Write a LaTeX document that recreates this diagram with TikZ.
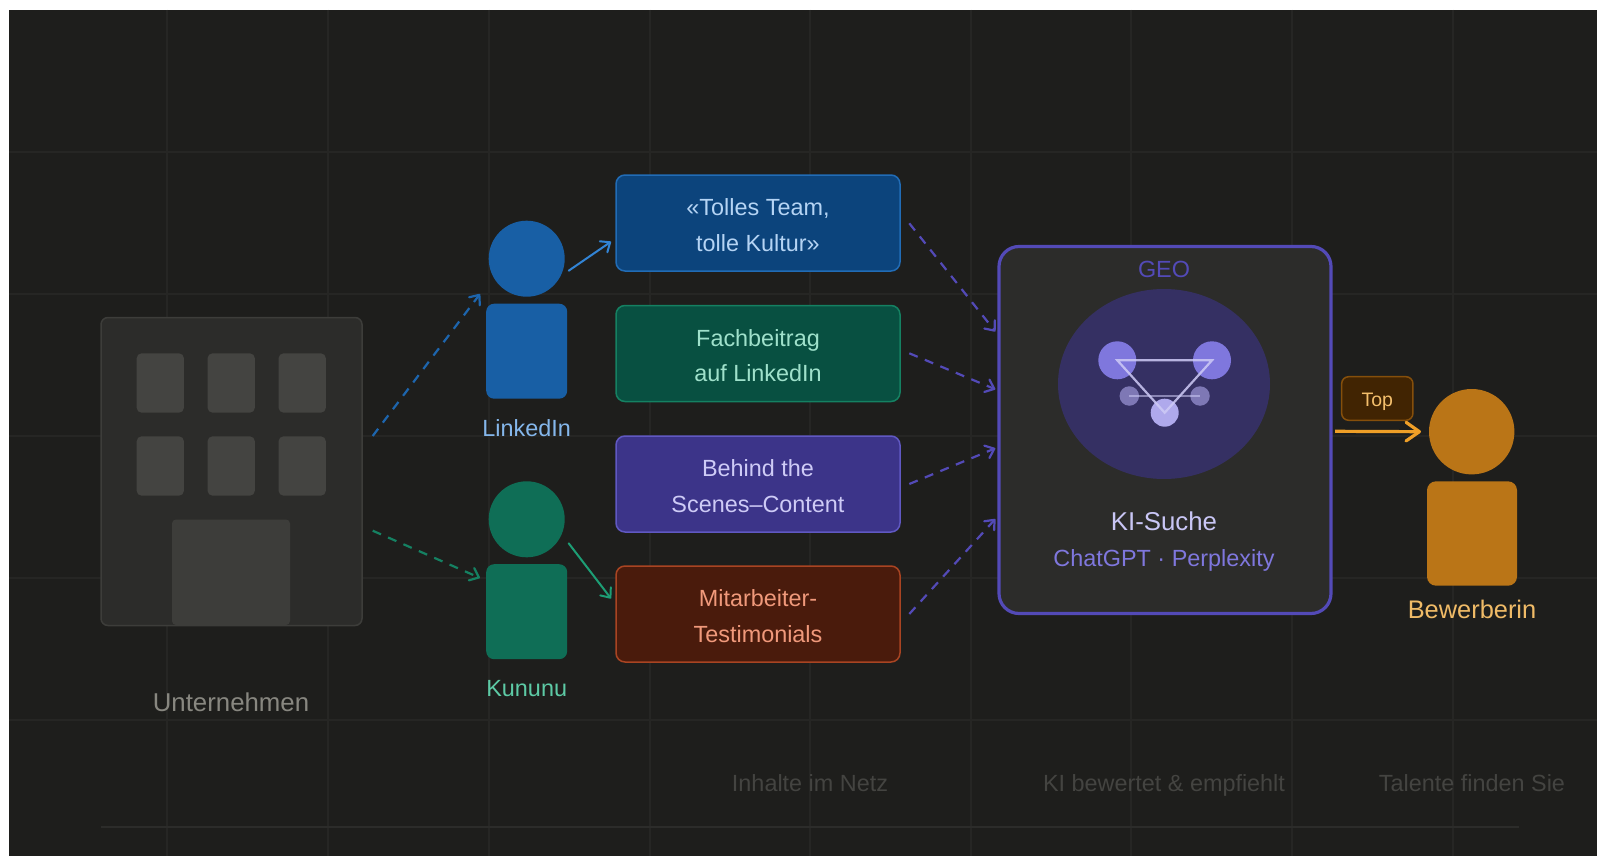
\documentclass[tikz,border=0pt]{standalone}
\usepackage{fontspec}
\setmainfont{Liberation Sans}
\usetikzlibrary{arrows.meta,calc,shapes.geometric}
\def\u{0.75pt}
\newcommand{\fs}[2]{\pgfmathsetmacro\fsa{#1*0.75}\pgfmathsetmacro\fsb{#2*0.75}\fontsize{\fsa}{\fsb}\selectfont}
\newcommand{\cardtxt}[2]{\rule{0pt}{19.7pt}#1\\#2\rule[-4pt]{0pt}{4pt}}
\definecolor{bgdark}{HTML}{1E1E1C}
\definecolor{gridc}{HTML}{262624}
\definecolor{panel}{HTML}{2C2C2A}
\definecolor{panelb}{HTML}{3D3D3A}
\definecolor{winc}{HTML}{444441}
\definecolor{grayt}{HTML}{888780}
\definecolor{footc}{HTML}{444441}
\definecolor{blueA}{HTML}{0C447C}
\definecolor{blueB}{HTML}{185FA5}
\definecolor{blueC}{HTML}{378ADD}
\definecolor{blueD}{HTML}{85B7EB}
\definecolor{blueE}{HTML}{B5D4F4}
\definecolor{tealA}{HTML}{085041}
\definecolor{tealB}{HTML}{0F6E56}
\definecolor{tealC}{HTML}{1D9E75}
\definecolor{tealD}{HTML}{5DCAA5}
\definecolor{tealE}{HTML}{9FE1CB}
\definecolor{purA}{HTML}{3C3489}
\definecolor{purB}{HTML}{534AB7}
\definecolor{purC}{HTML}{7F77DD}
\definecolor{purD}{HTML}{AFA9EC}
\definecolor{purE}{HTML}{CECBF6}
\definecolor{corA}{HTML}{4A1B0C}
\definecolor{corB}{HTML}{993C1D}
\definecolor{corC}{HTML}{D85A30}
\definecolor{corD}{HTML}{F0997B}
\definecolor{ambA}{HTML}{412402}
\definecolor{ambB}{HTML}{854F0B}
\definecolor{ambC}{HTML}{BA7517}
\definecolor{ambD}{HTML}{EF9F27}
\definecolor{ambE}{HTML}{FAC775}
\tikzset{
  x=0.75pt,y=-0.75pt,
  every node/.style={inner sep=0pt,outer sep=0pt},
  gridline/.style={draw=gridc,line width=1.4*\u},
  cardbox/.style={rectangle,rounded corners=9*\u,minimum width=284*\u,minimum height=96*\u,line width=1.5*\u,align=center,font=\fs{23.4}{35.6}},
  windowbox/.style={rectangle,rounded corners=5*\u,minimum width=47.3*\u,minimum height=59.4*\u,fill=winc},
  head/.style={circle,minimum size=#1*\u},
  bodybox/.style={rectangle,rounded corners=8*\u,minimum width=81*\u,minimum height=95*\u},
  tip/.style={-{Straight Barb[length=6pt,width=10pt,round]}},
  dashconn/.style={tip,line width=2.2*\u,dash pattern=on 6.8pt off 5.8pt},
  solidconn/.style={tip,line width=2*\u,line cap=round},
  lbl/.style={anchor=base,font=\fs{23.4}{28}},
}
\begin{document}
\begin{tikzpicture}
\useasboundingbox (0,0) rectangle (1597,856);
\fill[white] (0,0) rectangle (1597,856);
\fill[bgdark] (9,10) rectangle (1597,856);
\foreach \gx in {167,328,489,650,810,971,1131,1292,1453} \draw[gridline] (\gx,10) -- (\gx,856);
\foreach \gy in {152,294,436,578,720} \draw[gridline] (9,\gy) -- (1597,\gy);
% footer line
\coordinate (footL) at (101,827);
\coordinate (footR) at (1519,827);
\draw[draw=panel,line width=2*\u] (footL) -- (footR);

% building
\node[rectangle,rounded corners=7*\u,fill=panel,draw=panelb,line width=1.5*\u,minimum width=261*\u,minimum height=308*\u] (hq) at (231.5,471.5) {};
\node[windowbox] (w1) at (160.3,383) {};
\node[windowbox] (w2) at (231.2,383) {};
\node[windowbox] (w3) at (302.2,383) {};
\node[windowbox] (w4) at (160.3,466) {};
\node[windowbox] (w5) at (231.2,466) {};
\node[windowbox] (w6) at (302.2,466) {};
\path[fill=panelb,rounded corners=4*\u] (172,625) -- (172,519.5) -- (290,519.5) -- (290,625) -- cycle;
\node[anchor=base,font=\fs{25.8}{30},text=grayt] (hqlabel) at (231,711.5) {Unternehmen};

% LinkedIn person
\node[head=76,fill=blueB] (lihead) at (526.7,258.7) {};
\node[bodybox,fill=blueB] (libody) at (526.7,351.2) {};
\node[lbl,text=blueD] (lilabel) at (526.7,436) {LinkedIn};
% Kununu person
\node[head=76,fill=tealB] (kuhead) at (526.7,519.3) {};
\node[bodybox,fill=tealB] (kubody) at (526.7,611.7) {};
\node[lbl,text=tealD] (kulabel) at (526.7,696.7) {Kununu};

% cards
\node[cardbox,fill=blueA,draw=blueB!70!blueC,text=blueE] (c1) at (758,223) {\cardtxt{«Tolles Team,}{tolle Kultur»}};
\node[cardbox,fill=tealA,draw=tealB!60!tealC,text=tealE] (c2) at (758,353.5) {\cardtxt{Fachbeitrag}{auf LinkedIn}};
\node[cardbox,fill=purA,draw=purB!70!purC,text=purE] (c3) at (758,484) {\cardtxt{Behind the}{Scenes–Content}};
\node[cardbox,fill=corA,draw=corB!75!corC,text=corD] (c4) at (758,614) {\cardtxt{Mitarbeiter-}{Testimonials}};

% KI box
\node[rectangle,rounded corners=20*\u,fill=panel,draw=purB,line width=3.2*\u,minimum width=332*\u,minimum height=367*\u] (ki) at (1165,430) {};
\node[lbl,text=purB] (geo) at (1164,277.3) {GEO};
\node[ellipse,minimum width=212*\u,minimum height=190*\u,fill=purA,fill opacity=0.6] (halo) at (1164,384) {};
\node[circle,minimum size=38*\u,fill=purC] (n1) at (1117.3,360.3) {};
\node[circle,minimum size=38*\u,fill=purC] (n2) at (1212,360.3) {};
\node[circle,minimum size=28*\u,fill=purD] (n3) at (1164.7,412.7) {};
\node[circle,minimum size=19.5*\u,fill=purD,fill opacity=0.6] (n4) at (1129.3,396) {};
\node[circle,minimum size=19.5*\u,fill=purD,fill opacity=0.6] (n5) at (1200,396) {};
\draw[draw=purE,draw opacity=0.85,line width=2.2*\u] (n1.center) -- (n2.center) -- (n3.center) -- cycle;
\draw[draw=purE,draw opacity=0.55,line width=1.6*\u] (n4.center) -- (n5.center);
\node[anchor=base,font=\fs{25.8}{30},text=purE!85!purD] (kititle) at (1164,530.7) {KI-Suche};
\node[lbl,text=purC] (kisub) at (1164,566) {ChatGPT · Perplexity};

% candidate
\node[head=85.4,fill=ambC] (bwhead) at (1471.7,431.7) {};
\node[rectangle,rounded corners=9*\u,fill=ambC,minimum width=90*\u,minimum height=104.4*\u] (bwbody) at (1472,533.5) {};
\node[anchor=base,font=\fs{25.4}{30},text=ambE!85!ambC] (bwlabel) at (1472,618.3) {Bewerberin};
\node[rectangle,rounded corners=7*\u,fill=ambA,draw=ambB,line width=1.5*\u,minimum width=71.3*\u,minimum height=43.6*\u,font=\fs{19.5}{24},text=ambE!90!ambC] (top) at (1377.3,398.5) {\rule[-2pt]{0pt}{17.2pt}Top};

% connectors
\draw[dashconn,draw=blueB!85!blueC] ($(hq.east)+(10.7,-35.5)$) -- ($(libody.north west)+(-6.2,-9.7)$);
\draw[dashconn,draw=tealB!60!tealC] ($(hq.east)+(10.7,59.2)$) -- ($(kubody.north west)+(-6.3,13.7)$);
\draw[solidconn,draw=blueC!85!blueB] ($(lihead.east)+(4,12)$) -- ($(c1.west)+(-5,18.7)$);
\draw[solidconn,draw=tealC] ($(kuhead.east)+(4,24)$) -- ($(c4.west)+(-5,-15.5)$);
\draw[dashconn,draw=purB] ($(c1.east)+(9.3,0.3)$) -- ($(ki.west)+(-3.7,-98.5)$);
\draw[dashconn,draw=purB] ($(c2.east)+(9.3,-0.2)$) -- ($(ki.west)+(-3.7,-40.7)$);
\draw[dashconn,draw=purB] ($(c3.east)+(9.3,0)$) -- ($(ki.west)+(-3.7,18.3)$);
\draw[dashconn,draw=purB] ($(c4.east)+(9.3,0)$) -- ($(ki.west)+(-3.7,89)$);
\draw[-{Straight Barb[length=10pt,width=14pt,round]},draw=ambD,line width=3.2*\u] ($(ki.east)+(4,1.3)$) -- ($(bwhead.west)+(-8,0)$);

% footer labels
\node[lbl,text=footc] (f1) at (810,791) {Inhalte im Netz};
\node[lbl,text=footc] (f2) at (1164,791) {KI bewertet \& empfiehlt};
\node[lbl,text=footc] (f3) at (1472,791) {Talente finden Sie};
\end{tikzpicture}
\end{document}
